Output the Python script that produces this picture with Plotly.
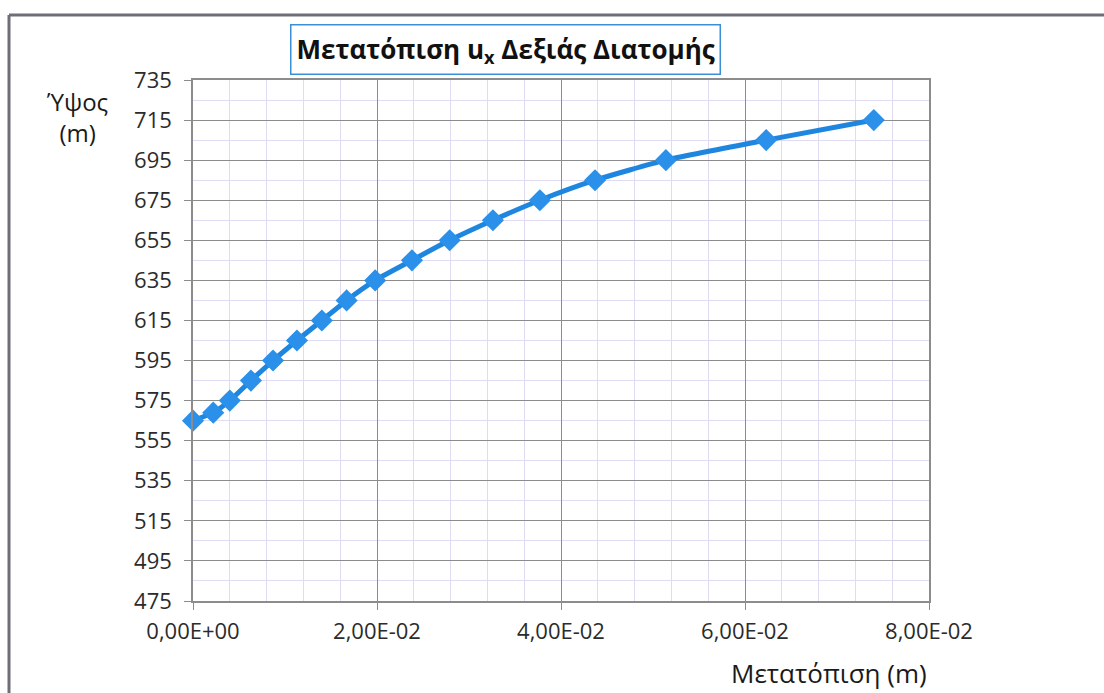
import plotly.graph_objects as go

# Data
displacement = [0.0000, 0.0022, 0.0040, 0.0063, 0.0087, 0.0113, 0.0140, 0.0167, 0.0198,
                0.0238, 0.0279, 0.0326, 0.0377, 0.0437, 0.0514, 0.0623, 0.0740]
height = [565, 569, 575, 585, 595, 605, 615, 625, 635, 645, 655, 665, 675, 685, 695, 705, 715]

x_tickvals = [0.0, 0.02, 0.04, 0.06, 0.08]
x_ticktext = ["0,00E+00", "2,00E-02", "4,00E-02", "6,00E-02", "8,00E-02"]
y_tickvals = list(range(475, 736, 20))

W, H = 1104, 693
L, R, T, B = 193, 929, 80, 601
FONT = "Open Sans, Lato, sans-serif"

fig = go.Figure()
fig.add_trace(go.Scatter(
    x=displacement, y=height, mode="lines+markers",
    line=dict(color="#1f86e0", width=5, shape="spline", smoothing=0.6),
    marker=dict(symbol="diamond", size=17, color="#2a90ea"),
    cliponaxis=False,
    showlegend=False,
))

grid_major = "#8c8c8c"
grid_minor = "#e0dbf0"
tickfont = dict(family=FONT, size=22, color="#2b2b2b")

fig.update_xaxes(
    range=[0, 0.08], tickvals=x_tickvals, ticktext=x_ticktext,
    showgrid=True, gridcolor=grid_major, gridwidth=1,
    minor=dict(dtick=0.004, tick0=0, showgrid=True, gridcolor=grid_minor, gridwidth=1),
    showline=True, linecolor=grid_major, linewidth=1.5, mirror=True,
    ticks="outside", ticklen=7, tickcolor=grid_major,
    tickfont=tickfont, zeroline=False, ticklabelstandoff=3,
)
fig.update_yaxes(
    range=[475, 735], tickvals=y_tickvals,
    showgrid=True, gridcolor=grid_major, gridwidth=1,
    minor=dict(dtick=10, tick0=475, showgrid=True, gridcolor=grid_minor, gridwidth=1),
    showline=True, linecolor=grid_major, linewidth=1.5, mirror=True,
    ticks="outside", ticklen=7, tickcolor=grid_major,
    tickfont=tickfont, zeroline=False, ticklabelstandoff=8,
)

def px_x(p):
    return (p - L) / (R - L)

def px_y(p):
    return (B - p) / (B - T)

# outer frame lines
fig.add_shape(type="line", xref="paper", yref="paper",
              x0=px_x(9), x1=px_x(1104), y0=px_y(15), y1=px_y(15),
              line=dict(color="#6e6e78", width=3))
fig.add_shape(type="line", xref="paper", yref="paper",
              x0=px_x(9), x1=px_x(9), y0=px_y(15), y1=px_y(693),
              line=dict(color="#6e6e78", width=3))

# title box
fig.add_annotation(
    xref="paper", yref="paper", x=px_x(505), y=px_y(50),
    text="<b>Μετατόπιση u<sub>x</sub> Δεξιάς Διατομής</b>",
    showarrow=False, font=dict(family=FONT, size=26, color="#111111"),
    bordercolor="#3a8fd6", borderwidth=1.5, borderpad=5, bgcolor="white",
    xanchor="center", yanchor="middle",
)
# y-axis title
fig.add_annotation(
    xref="paper", yref="paper", x=px_x(77), y=px_y(117),
    text="Ύψος<br>(m)", showarrow=False, align="center",
    font=dict(family=FONT, size=24, color="#1a1a1a"),
    xanchor="center", yanchor="middle",
)
# x-axis title
fig.add_annotation(
    xref="paper", yref="paper", x=px_x(829), y=px_y(673),
    text="Μετατόπιση (m)", showarrow=False,
    font=dict(family=FONT, size=26, color="#1a1a1a"),
    xanchor="center", yanchor="middle",
)

fig.update_layout(
    width=W, height=H,
    margin=dict(l=L, r=W - R, t=T, b=H - B),
    paper_bgcolor="white", plot_bgcolor="white",
)

fig.write_html("out.html")
